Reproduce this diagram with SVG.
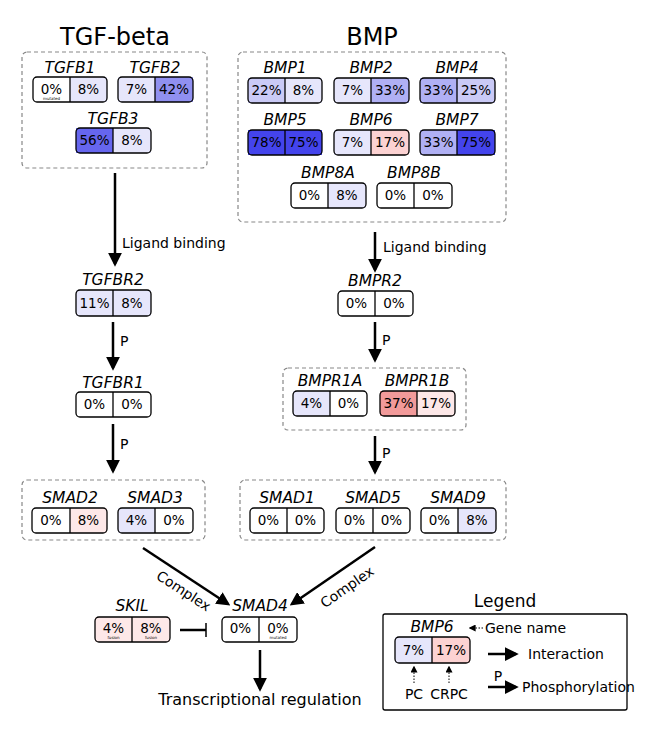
<svg xmlns="http://www.w3.org/2000/svg" width="650" height="730" viewBox="0 0 650 730">
<defs>
<style>
text{font-family:"DejaVu Sans","Liberation Sans",sans-serif;fill:#000}
.t{font-size:24px;text-anchor:middle}
.g{font-size:15.5px;font-style:italic;text-anchor:middle}
.p{font-size:13.5px;text-anchor:middle}
.s{font-size:4px;text-anchor:middle}
.l{font-size:14px}
.b{fill:none;stroke:#000;stroke-width:1.3}
.d{fill:none;stroke:#888;stroke-width:1.2;stroke-dasharray:4 3}
.a{stroke:#000;stroke-width:2.5;fill:none;marker-end:url(#ah)}
.w{fill:#fff}.c1{fill:#e6e6fb}.c2{fill:#cacaf6}.c3{fill:#b0b0f4}.c4{fill:#9090f0}.c5{fill:#6666ee}.c6{fill:#4444ec}
.r1{fill:#fde8e8}.r2{fill:#fcd2d2}.r3{fill:#f29a9a}
</style>
<marker id="ah" viewBox="0 0 10 10" refX="8" refY="5" markerWidth="5.5" markerHeight="5.5" orient="auto" markerUnits="strokeWidth"><path d="M0,0L10,5L0,10z" fill="#000"/></marker>
<marker id="ahs" viewBox="0 0 10 10" refX="8" refY="5" markerWidth="7" markerHeight="7" orient="auto" markerUnits="strokeWidth"><path d="M0,0L10,5L0,10z" fill="#000"/></marker>
</defs>
<rect width="650" height="730" fill="#fff"/>
<text class="t" x="115" y="45">TGF-beta</text>
<text class="t" x="372" y="45">BMP</text>
<g id="groups">
<rect class="d" x="22" y="52" width="185" height="116" rx="5"/>
<rect class="d" x="238" y="52" width="268" height="170" rx="5"/>
<rect class="d" x="283" y="368" width="183" height="62" rx="5"/>
<rect class="d" x="22" y="480" width="183" height="60" rx="5"/>
<rect class="d" x="240" y="480" width="266" height="60" rx="5"/>
</g>
<g id="TGFB1"><text class="g" x="70" y="73">TGFB1</text><rect class="w" x="33" y="77" width="37" height="25"/><rect class="c1" x="70" y="77" width="37" height="25"/><rect class="b" x="33" y="77" width="74" height="25" rx="4"/><line class="b" x1="70" y1="77" x2="70" y2="102"/><text class="p" x="51.5" y="94">0%</text><text class="s" x="51.5" y="100">mutated</text><text class="p" x="88.5" y="94">8%</text></g>
<g id="TGFB2"><text class="g" x="155" y="73">TGFB2</text><rect class="c1" x="118" y="77" width="37" height="25"/><rect class="c4" x="155" y="77" width="38" height="25"/><rect class="b" x="118" y="77" width="75" height="25" rx="4"/><line class="b" x1="155" y1="77" x2="155" y2="102"/><text class="p" x="136.5" y="94">7%</text><text class="p" x="174" y="94">42%</text></g>
<g id="TGFB3"><text class="g" x="113" y="124">TGFB3</text><rect class="c5" x="76" y="128" width="37" height="25"/><rect class="c1" x="113" y="128" width="38" height="25"/><rect class="b" x="76" y="128" width="75" height="25" rx="4"/><line class="b" x1="113" y1="128" x2="113" y2="153"/><text class="p" x="94.5" y="145">56%</text><text class="p" x="132" y="145">8%</text></g>
<g id="TGFBR2"><text class="g" x="113" y="285">TGFBR2</text><rect class="c1" x="76" y="290" width="75" height="26"/><rect class="b" x="76" y="290" width="75" height="26" rx="4"/><line class="b" x1="113" y1="290" x2="113" y2="316"/><text class="p" x="94.5" y="308">11%</text><text class="p" x="132" y="308">8%</text></g>
<g id="TGFBR1"><text class="g" x="113" y="388">TGFBR1</text><rect class="w" x="76" y="392" width="75" height="25"/><rect class="b" x="76" y="392" width="75" height="25" rx="4"/><line class="b" x1="113" y1="392" x2="113" y2="417"/><text class="p" x="94.5" y="409">0%</text><text class="p" x="132" y="409">0%</text></g>
<g id="SMAD2"><text class="g" x="70" y="503">SMAD2</text><rect class="w" x="32" y="508" width="38" height="25"/><rect class="r1" x="70" y="508" width="37" height="25"/><rect class="b" x="32" y="508" width="75" height="25" rx="4"/><line class="b" x1="70" y1="508" x2="70" y2="533"/><text class="p" x="51" y="525">0%</text><text class="p" x="88.5" y="525">8%</text></g>
<g id="SMAD3"><text class="g" x="155" y="503">SMAD3</text><rect class="c1" x="118" y="508" width="37" height="25"/><rect class="w" x="155" y="508" width="38" height="25"/><rect class="b" x="118" y="508" width="75" height="25" rx="4"/><line class="b" x1="155" y1="508" x2="155" y2="533"/><text class="p" x="136.5" y="525">4%</text><text class="p" x="174" y="525">0%</text></g>
<g id="BMP1"><text class="g" x="285" y="73">BMP1</text><rect class="c2" x="248" y="78" width="37" height="25"/><rect class="c1" x="285" y="78" width="37" height="25"/><rect class="b" x="248" y="78" width="74" height="25" rx="4"/><line class="b" x1="285" y1="78" x2="285" y2="103"/><text class="p" x="266.5" y="95">22%</text><text class="p" x="303.5" y="95">8%</text></g>
<g id="BMP2"><text class="g" x="371" y="73">BMP2</text><rect class="c1" x="334" y="78" width="37" height="25"/><rect class="c3" x="371" y="78" width="38" height="25"/><rect class="b" x="334" y="78" width="75" height="25" rx="4"/><line class="b" x1="371" y1="78" x2="371" y2="103"/><text class="p" x="352.5" y="95">7%</text><text class="p" x="390" y="95">33%</text></g>
<g id="BMP4"><text class="g" x="457" y="73">BMP4</text><rect class="c3" x="420" y="78" width="37" height="25"/><rect class="c2" x="457" y="78" width="38" height="25"/><rect class="b" x="420" y="78" width="75" height="25" rx="4"/><line class="b" x1="457" y1="78" x2="457" y2="103"/><text class="p" x="438.5" y="95">33%</text><text class="p" x="476" y="95">25%</text></g>
<g id="BMP5"><text class="g" x="285" y="125">BMP5</text><rect class="c6" x="248" y="130" width="37" height="25"/><rect class="c6" x="285" y="130" width="37" height="25"/><rect class="b" x="248" y="130" width="74" height="25" rx="4"/><line class="b" x1="285" y1="130" x2="285" y2="155"/><text class="p" x="266.5" y="147">78%</text><text class="p" x="303.5" y="147">75%</text></g>
<g id="BMP6"><text class="g" x="371" y="125">BMP6</text><rect class="c1" x="334" y="130" width="37" height="25"/><rect class="r2" x="371" y="130" width="38" height="25"/><rect class="b" x="334" y="130" width="75" height="25" rx="4"/><line class="b" x1="371" y1="130" x2="371" y2="155"/><text class="p" x="352.5" y="147">7%</text><text class="p" x="390" y="147">17%</text></g>
<g id="BMP7"><text class="g" x="457" y="125">BMP7</text><rect class="c3" x="420" y="130" width="37" height="25"/><rect class="c6" x="457" y="130" width="38" height="25"/><rect class="b" x="420" y="130" width="75" height="25" rx="4"/><line class="b" x1="457" y1="130" x2="457" y2="155"/><text class="p" x="438.5" y="147">33%</text><text class="p" x="476" y="147">75%</text></g>
<g id="BMP8A"><text class="g" x="328" y="178">BMP8A</text><rect class="w" x="291" y="183" width="37" height="25"/><rect class="c1" x="328" y="183" width="38" height="25"/><rect class="b" x="291" y="183" width="75" height="25" rx="4"/><line class="b" x1="328" y1="183" x2="328" y2="208"/><text class="p" x="309.5" y="200">0%</text><text class="p" x="347" y="200">8%</text></g>
<g id="BMP8B"><text class="g" x="414" y="178">BMP8B</text><rect class="w" x="377" y="183" width="75" height="25"/><rect class="b" x="377" y="183" width="75" height="25" rx="4"/><line class="b" x1="414" y1="183" x2="414" y2="208"/><text class="p" x="395.5" y="200">0%</text><text class="p" x="433" y="200">0%</text></g>
<g id="BMPR2"><text class="g" x="375" y="286">BMPR2</text><rect class="w" x="338" y="291" width="75" height="25"/><rect class="b" x="338" y="291" width="75" height="25" rx="4"/><line class="b" x1="375" y1="291" x2="375" y2="316"/><text class="p" x="356.5" y="308">0%</text><text class="p" x="394" y="308">0%</text></g>
<g id="BMPR1A"><text class="g" x="330" y="386">BMPR1A</text><rect class="c1" x="293" y="391" width="37" height="25"/><rect class="w" x="330" y="391" width="37" height="25"/><rect class="b" x="293" y="391" width="74" height="25" rx="4"/><line class="b" x1="330" y1="391" x2="330" y2="416"/><text class="p" x="311.5" y="408">4%</text><text class="p" x="348.5" y="408">0%</text></g>
<g id="BMPR1B"><text class="g" x="417" y="386">BMPR1B</text><rect class="r3" x="380" y="391" width="37" height="25"/><rect class="r1" x="417" y="391" width="38" height="25"/><rect class="b" x="380" y="391" width="75" height="25" rx="4"/><line class="b" x1="417" y1="391" x2="417" y2="416"/><text class="p" x="398.5" y="408">37%</text><text class="p" x="436" y="408">17%</text></g>
<g id="SMAD1"><text class="g" x="287" y="503">SMAD1</text><rect class="w" x="250" y="508" width="74" height="25"/><rect class="b" x="250" y="508" width="74" height="25" rx="4"/><line class="b" x1="287" y1="508" x2="287" y2="533"/><text class="p" x="268.5" y="525">0%</text><text class="p" x="305.5" y="525">0%</text></g>
<g id="SMAD5"><text class="g" x="373" y="503">SMAD5</text><rect class="w" x="336" y="508" width="74" height="25"/><rect class="b" x="336" y="508" width="74" height="25" rx="4"/><line class="b" x1="373" y1="508" x2="373" y2="533"/><text class="p" x="354.5" y="525">0%</text><text class="p" x="391.5" y="525">0%</text></g>
<g id="SMAD9"><text class="g" x="458" y="503">SMAD9</text><rect class="w" x="421" y="508" width="37" height="25"/><rect class="c1" x="458" y="508" width="38" height="25"/><rect class="b" x="421" y="508" width="75" height="25" rx="4"/><line class="b" x1="458" y1="508" x2="458" y2="533"/><text class="p" x="439.5" y="525">0%</text><text class="p" x="477" y="525">8%</text></g>
<g id="SKIL"><text class="g" x="132" y="611">SKIL</text><rect class="r1" x="95" y="617" width="75" height="25"/><rect class="b" x="95" y="617" width="75" height="25" rx="4"/><line class="b" x1="132" y1="617" x2="132" y2="642"/><text class="p" x="113.5" y="633">4%</text><text class="s" x="113.5" y="639">fusion</text><text class="p" x="151" y="633">8%</text><text class="s" x="151" y="639">fusion</text></g>
<g id="SMAD4"><text class="g" x="260" y="611">SMAD4</text><rect class="w" x="222" y="617" width="75" height="25"/><rect class="b" x="222" y="617" width="75" height="25" rx="4"/><line class="b" x1="259" y1="617" x2="259" y2="642"/><text class="p" x="240.5" y="633">0%</text><text class="p" x="278" y="633">0%</text><text class="s" x="278" y="639">mutated</text></g>
<g id="connectors">
<line class="a" x1="115" y1="173" x2="115" y2="264"/>
<line class="a" x1="113" y1="322" x2="113" y2="368"/>
<line class="a" x1="113" y1="424" x2="113" y2="471"/>
<line class="a" x1="375" y1="232" x2="375" y2="270"/>
<line class="a" x1="375" y1="322" x2="375" y2="360"/>
<line class="a" x1="375" y1="436" x2="375" y2="472"/>
<line class="a" x1="143" y1="548" x2="228" y2="604"/>
<line class="a" x1="375" y1="547" x2="292" y2="604"/>
<line class="a" x1="260" y1="650" x2="260" y2="689"/>
<line stroke="#000" stroke-width="2.5" x1="180" y1="630" x2="206" y2="630"/>
<line stroke="#000" stroke-width="1.5" x1="206" y1="623" x2="206" y2="637"/>
<text class="l" x="122" y="248">Ligand binding</text>
<text class="l" x="383" y="252">Ligand binding</text>
<text class="l" x="120" y="346">P</text>
<text class="l" x="120" y="449">P</text>
<text class="l" x="382" y="345">P</text>
<text class="l" x="382" y="458">P</text>
<text class="l" font-size="15" text-anchor="middle" transform="translate(181,595) rotate(33)">Complex</text>
<text class="l" font-size="15" text-anchor="middle" transform="translate(350,591) rotate(-35)">Complex</text>
<text x="260" y="705" font-size="16" text-anchor="middle">Transcriptional regulation</text>
</g>
<g id="legend">
<text x="505" y="607" font-size="17" text-anchor="middle">Legend</text>
<rect class="b" x="383" y="614" width="244" height="96" rx="2"/>
<text class="g" x="432" y="632">BMP6</text>
<rect class="c1" x="395" y="637" width="37" height="26"/><rect class="r2" x="432" y="637" width="38" height="26"/><rect class="b" x="395" y="637" width="75" height="26" rx="4"/><line class="b" x1="432" y1="637" x2="432" y2="663"/>
<text class="p" x="413.5" y="655">7%</text><text class="p" x="451" y="655">17%</text>
<line stroke="#000" stroke-width="1" stroke-dasharray="1.5 1.5" x1="483" y1="628" x2="470" y2="628" marker-end="url(#ahs)"/>
<text class="l" font-size="13.5" x="485" y="633">Gene name</text>
<line stroke="#000" stroke-width="1" stroke-dasharray="1.5 1.5" x1="414" y1="683" x2="414" y2="667" marker-end="url(#ahs)"/>
<line stroke="#000" stroke-width="1" stroke-dasharray="1.5 1.5" x1="449" y1="683" x2="449" y2="667" marker-end="url(#ahs)"/>
<text class="l" x="414" y="699" text-anchor="middle">PC</text>
<text class="l" x="449" y="699" text-anchor="middle">CRPC</text>
<line class="a" x1="488" y1="654" x2="516" y2="654"/>
<text class="l" font-size="13.5" x="528" y="659">Interaction</text>
<line class="a" x1="488" y1="687" x2="516" y2="687"/>
<text class="l" x="498" y="681" text-anchor="middle">P</text>
<text class="l" font-size="13.5" x="522" y="692">Phosphorylation</text>
</g>
</svg>
